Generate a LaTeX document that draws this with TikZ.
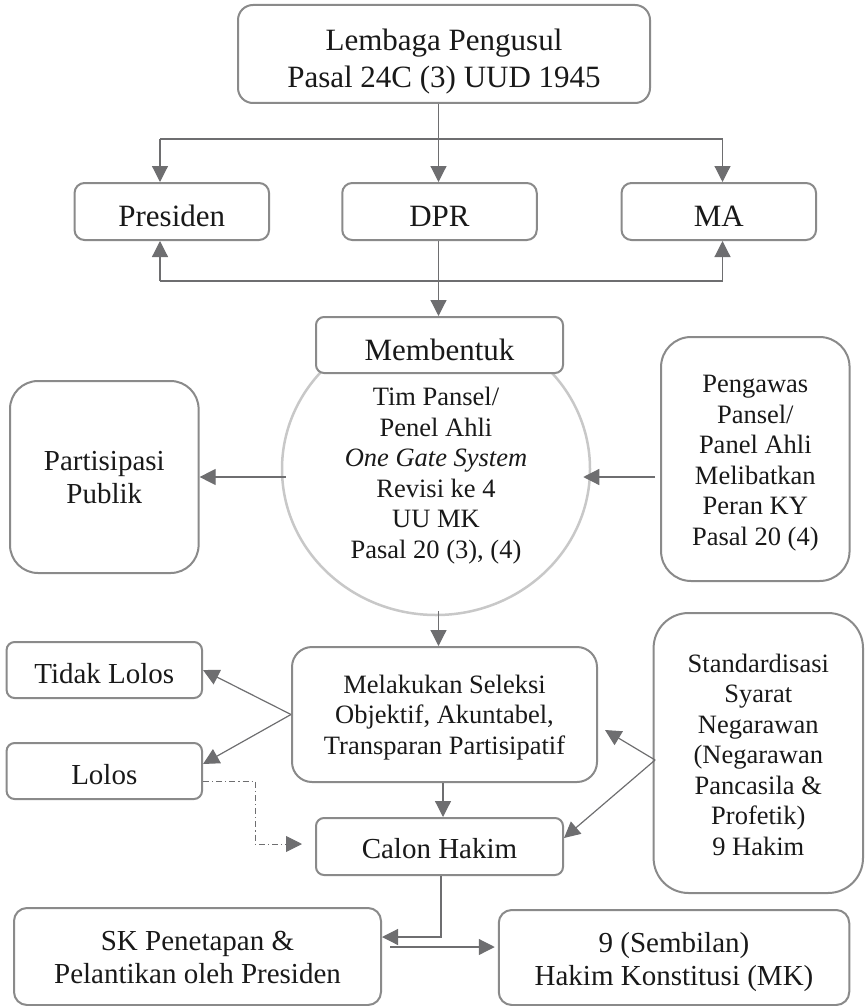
\documentclass[tikz,border=0pt]{standalone}
\usepackage{fontspec}
\setmainfont{Liberation Serif}
\usetikzlibrary{arrows.meta,shapes.geometric}

\definecolor{boxgray}{HTML}{8A8A8A}
\definecolor{linegray}{HTML}{6E6E70}
\definecolor{ringgray}{HTML}{C8C8C8}

\newcommand\bigtxt{\fontsize{31}{37}\selectfont}
\newcommand\midtxt{\fontsize{29}{33}\selectfont}
\newcommand\smalltxt{\fontsize{26.5}{30.5}\selectfont}

\tikzset{
  arr/.style={draw=linegray, line width=1.2pt, -{Triangle[length=16pt,width=16pt]}},
  lolosline/.style={draw=linegray, line width=0.9pt, dash pattern=on 6pt off 3pt on 1.2pt off 3pt,
    -{Triangle[length=16pt,width=16pt]}},
}

\begin{document}
\begin{tikzpicture}[x=1pt,y=-1pt]
  \useasboundingbox (0,0) rectangle (865,1006);

  \begin{scope}[every node/.style={draw=boxgray, line width=2pt, fill=white, text=black!90,
      inner sep=0pt, text depth=0pt, rounded corners=10pt}]
    \node[ellipse, draw=ringgray, line width=2.5pt, minimum width=308, minimum height=292,
      text height=178pt, font=\smalltxt] (6) at (436,469)
      {\begin{tabular}[b]{@{}c@{}}Tim Pansel/\\Penel Ahli\\\textit{One Gate System}\\Revisi ke 4\\UU MK\\Pasal 20 (3), (4)\end{tabular}};
    \node[rounded corners=15pt, minimum width=412, minimum height=98, text height=67pt, font=\bigtxt] (1) at (444,54)
      {\begin{tabular}[b]{@{}c@{}}Lembaga Pengusul\\Pasal 24C (3) UUD 1945\end{tabular}};
    \node[minimum width=194.5, minimum height=57, text height=30.4pt, font=\bigtxt] (2) at (171.8,211.5) {Presiden};
    \node[minimum width=194.5, minimum height=57, text height=30.4pt, font=\bigtxt] (3) at (439.5,211.5) {DPR};
    \node[minimum width=194.5, minimum height=57, text height=30.4pt, font=\bigtxt] (4) at (718.8,211.5) {MA};
    \node[rounded corners=8pt, minimum width=247, minimum height=56, text height=30pt, font=\bigtxt] (5) at (439.5,345) {Membentuk};
    \node[rounded corners=28pt, minimum width=188.6, minimum height=192, text height=52pt, font=\midtxt] (7) at (104.3,477)
      {\begin{tabular}[b]{@{}c@{}}Partisipasi\\Publik\end{tabular}};
    \node[rounded corners=30pt, minimum width=188.5, minimum height=244, text height=172pt, font=\smalltxt] (8) at (755.3,459)
      {\begin{tabular}[b]{@{}c@{}}Pengawas\\Pansel/\\Panel Ahli\\Melibatkan\\Peran KY\\Pasal 20 (4)\end{tabular}};
    \node[rounded corners=20pt, minimum width=305, minimum height=135, text height=79pt, font=\smalltxt] (9) at (444.5,714.5)
      {\begin{tabular}[b]{@{}c@{}}Melakukan Seleksi\\Objektif, Akuntabel,\\Transparan Partisipatif\end{tabular}};
    \node[rounded corners=8pt, minimum width=195.4, minimum height=56, text height=26.6pt, font=\midtxt] (10) at (104.3,670) {Tidak Lolos};
    \node[rounded corners=8pt, minimum width=195.4, minimum height=56, text height=26pt, font=\midtxt] (11) at (104.3,771) {Lolos};
    \node[rounded corners=8pt, minimum width=247, minimum height=57, text height=23.6pt, font=\midtxt] (12) at (439.5,846.5) {Calon Hakim};
    \node[rounded corners=35pt, minimum width=209.4, minimum height=280, text height=204pt, font=\smalltxt] (13) at (758.3,753)
      {\begin{tabular}[b]{@{}c@{}}Standardisasi\\Syarat\\Negarawan\\(Negarawan\\Pancasila \&\\Profetik)\\9 Hakim\end{tabular}};
    \node[rounded corners=13pt, minimum width=367, minimum height=97, text height=53pt, font=\midtxt] (14) at (197.5,956.5)
      {\begin{tabular}[b]{@{}c@{}}SK Penetapan \&\\Pelantikan oleh Presiden\end{tabular}};
    \node[rounded corners=13pt, minimum width=350.5, minimum height=95, text height=55pt, font=\midtxt] (15) at (674,957.5)
      {\begin{tabular}[b]{@{}c@{}}9 (Sembilan)\\Hakim Konstitusi (MK)\end{tabular}};
  \end{scope}

  \coordinate (s1) at (438.5,139);
  \coordinate (s2) at (438.5,281);
  \coordinate (p2) at ([xshift=-11.8pt]2.north);
  \coordinate (p4) at ([xshift=3.7pt]4.north);
  \coordinate (b2) at ([xshift=-11.8pt]2.south);
  \coordinate (b4) at ([xshift=3.7pt]4.south);
  \coordinate (q) at ([shift={(-5pt,-18pt)}]8.west);
  \coordinate (r) at ([shift={(2.5pt,-7pt)}]13.west);

  \begin{scope}[every edge/.style={arr}]
    \draw[linegray, line width=1.2pt] (p2 |- s1) -- (p4 |- s1);
    \draw[linegray, line width=1.2pt] (b2 |- s2) -- (b4 |- s2);
    \path (1.south -| s1) edge (3.north -| s1);
    \path (p2 |- s1) edge (p2);
    \path (p4 |- s1) edge (p4);
    \path (b2 |- s2) edge (b2);
    \path (b4 |- s2) edge (b4);
    \path (3.south -| s1) edge (5.north -| s1);
    \path ([xshift=5pt]6.west |- 7.east) edge (7.east);
    \path (q) edge ([xshift=-8pt]6.east |- q);
    \path ([shift={(2.5pt,5pt)}]6.south) edge ([xshift=2.5pt]6.south |- 9.north);
    \path (9.west) edge (10.east);
    \path (9.west) edge ([yshift=7pt]11.east);
    \path ([xshift=-1.5pt]9.south) edge ([xshift=-1.5pt]9.south |- 12.north);
    \path (r) edge ([shift={(7pt,-15.5pt)}]9.east);
    \path (r) edge ([yshift=8.5pt]12.east);
    \path ([shift={(8pt,9.5pt)}]14.east) edge ([shift={(-3pt,10.5pt)}]15.west);
  \end{scope}

  \draw[lolosline] ([yshift=-10pt]11.east) -- ++(52,0) |- ([shift={(-13pt,2.5pt)}]12.west);
  \draw[arr] ([xshift=1.5pt]12.south) |- ([yshift=19.5pt]14.east);

\end{tikzpicture}
\end{document}
